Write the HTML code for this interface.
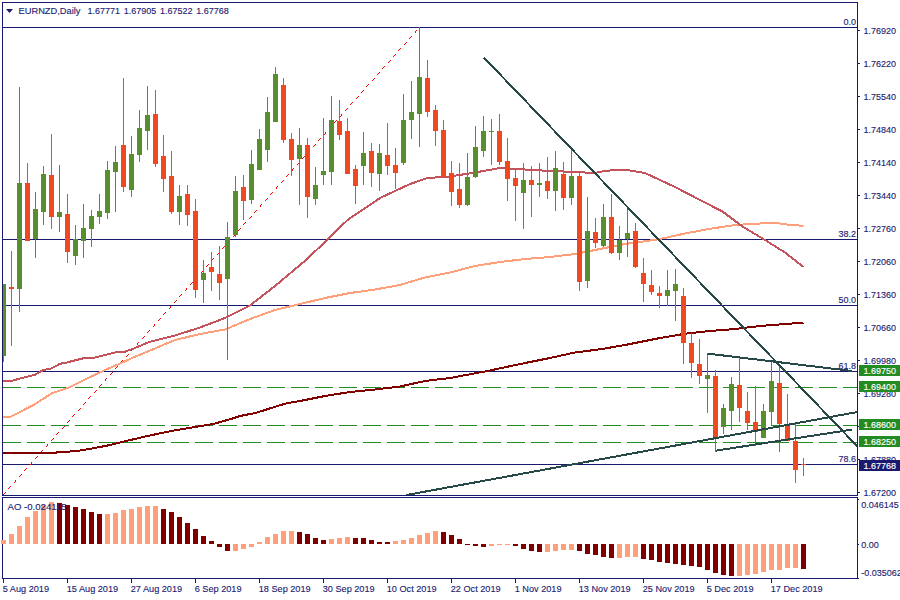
<!DOCTYPE html>
<html><head><meta charset="utf-8"><title>EURNZD Daily</title>
<style>html,body{margin:0;padding:0;background:#fff;width:900px;height:600px;overflow:hidden;font-family:"Liberation Sans",sans-serif}</style></head>
<body>
<svg width="900" height="600" viewBox="0 0 900 600" style="position:absolute;left:0;top:0">
<rect x="0" y="0" width="900" height="600" fill="#fff"/>
<defs><clipPath id="mc"><rect x="3" y="3" width="854" height="492"/></clipPath></defs>
<g shape-rendering="crispEdges" fill="#191970">
<rect x="2" y="2" width="856" height="1"/>
<rect x="2" y="2" width="1" height="494"/>
<rect x="2" y="497" width="1" height="82"/>
<rect x="857" y="2" width="1" height="494"/>
<rect x="857" y="497" width="1" height="82"/>
<rect x="2" y="495" width="856" height="1"/>
<rect x="2" y="497" width="856" height="1"/>
<rect x="2" y="578" width="856" height="1"/>
<rect x="2" y="27" width="856" height="1"/>
<rect x="2" y="239" width="856" height="1"/>
<rect x="2" y="305" width="856" height="1"/>
<rect x="2" y="371" width="856" height="1"/>
<rect x="2" y="464" width="856" height="1"/>
<rect x="858" y="30" width="2" height="1"/>
<rect x="858" y="63" width="2" height="1"/>
<rect x="858" y="96" width="2" height="1"/>
<rect x="858" y="129" width="2" height="1"/>
<rect x="858" y="162" width="2" height="1"/>
<rect x="858" y="195" width="2" height="1"/>
<rect x="858" y="228" width="2" height="1"/>
<rect x="858" y="261" width="2" height="1"/>
<rect x="858" y="294" width="2" height="1"/>
<rect x="858" y="327" width="2" height="1"/>
<rect x="858" y="360" width="2" height="1"/>
<rect x="858" y="393" width="2" height="1"/>
<rect x="858" y="426" width="2" height="1"/>
<rect x="858" y="459" width="2" height="1"/>
<rect x="858" y="492" width="2" height="1"/>
<rect x="858" y="499" width="1" height="1"/>
<rect x="858" y="544" width="1" height="1"/>
<rect x="858" y="578" width="1" height="1"/>
<rect x="3" y="579" width="1" height="4"/>
<rect x="67" y="579" width="1" height="4"/>
<rect x="131" y="579" width="1" height="4"/>
<rect x="195" y="579" width="1" height="4"/>
<rect x="259" y="579" width="1" height="4"/>
<rect x="323" y="579" width="1" height="4"/>
<rect x="387" y="579" width="1" height="4"/>
<rect x="451" y="579" width="1" height="4"/>
<rect x="515" y="579" width="1" height="4"/>
<rect x="579" y="579" width="1" height="4"/>
<rect x="643" y="579" width="1" height="4"/>
<rect x="707" y="579" width="1" height="4"/>
<rect x="771" y="579" width="1" height="4"/>
</g>
<g shape-rendering="crispEdges" stroke="#228b22" stroke-width="1" stroke-dasharray="18 6">
<line x1="3" y1="387.5" x2="857" y2="387.5"/>
<line x1="3" y1="425.5" x2="857" y2="425.5"/>
<line x1="3" y1="442.5" x2="857" y2="442.5"/>
</g>
<g clip-path="url(#mc)">
<path d="M416 30h1v1h-1zM415 31h1v1h-1zM415 32h1v1h-1zM411 36h1v1h-1zM410 37h1v1h-1zM409 38h1v1h-1zM406 42h1v1h-1zM405 43h1v1h-1zM404 44h1v1h-1zM400 48h1v1h-1zM399 49h1v1h-1zM398 50h1v1h-1zM395 54h1v1h-1zM394 55h1v1h-1zM393 56h1v1h-1zM390 60h1v1h-1zM389 61h1v1h-1zM388 62h1v1h-1zM384 66h1v1h-1zM383 67h1v1h-1zM382 68h1v1h-1zM379 72h1v1h-1zM378 73h1v1h-1zM377 74h1v1h-1zM374 78h1v1h-1zM373 79h1v1h-1zM372 80h1v1h-1zM368 84h1v1h-1zM367 85h1v1h-1zM366 86h1v1h-1zM363 90h1v1h-1zM362 91h1v1h-1zM361 92h1v1h-1zM358 96h1v1h-1zM357 97h1v1h-1zM356 98h1v1h-1zM352 102h1v1h-1zM351 103h1v1h-1zM350 104h1v1h-1zM347 108h1v1h-1zM346 109h1v1h-1zM345 110h1v1h-1zM341 114h1v1h-1zM341 115h1v1h-1zM340 116h1v1h-1zM336 120h1v1h-1zM335 121h1v1h-1zM334 122h1v1h-1zM331 126h1v1h-1zM330 127h1v1h-1zM329 128h1v1h-1zM325 132h1v1h-1zM325 133h1v1h-1zM324 134h1v1h-1zM320 138h1v1h-1zM319 139h1v1h-1zM318 140h1v1h-1zM315 144h1v1h-1zM314 145h1v1h-1zM313 146h1v1h-1zM309 150h1v1h-1zM309 151h1v1h-1zM308 152h1v1h-1zM304 156h1v1h-1zM303 157h1v1h-1zM302 158h1v1h-1zM299 162h1v1h-1zM298 163h1v1h-1zM297 164h1v1h-1zM293 168h1v1h-1zM292 169h1v1h-1zM292 170h1v1h-1zM288 174h1v1h-1zM287 175h1v1h-1zM286 176h1v1h-1zM283 180h1v1h-1zM282 181h1v1h-1zM281 182h1v1h-1zM277 186h1v1h-1zM276 187h1v1h-1zM276 188h1v1h-1zM272 192h1v1h-1zM271 193h1v1h-1zM270 194h1v1h-1zM267 198h1v1h-1zM266 199h1v1h-1zM265 200h1v1h-1zM261 204h1v1h-1zM260 205h1v1h-1zM260 206h1v1h-1zM256 210h1v1h-1zM255 211h1v1h-1zM254 212h1v1h-1zM251 216h1v1h-1zM250 217h1v1h-1zM249 218h1v1h-1zM245 222h1v1h-1zM244 223h1v1h-1zM243 224h1v1h-1zM240 228h1v1h-1zM239 229h1v1h-1zM238 230h1v1h-1zM235 234h1v1h-1zM234 235h1v1h-1zM233 236h1v1h-1zM229 240h1v1h-1zM228 241h1v1h-1zM227 242h1v1h-1zM224 246h1v1h-1zM223 247h1v1h-1zM222 248h1v1h-1zM219 252h1v1h-1zM218 253h1v1h-1zM217 254h1v1h-1zM213 258h1v1h-1zM212 259h1v1h-1zM211 260h1v1h-1zM208 264h1v1h-1zM207 265h1v1h-1zM206 266h1v1h-1zM203 270h1v1h-1zM202 271h1v1h-1zM201 272h1v1h-1zM197 276h1v1h-1zM196 277h1v1h-1zM195 278h1v1h-1zM192 282h1v1h-1zM191 283h1v1h-1zM190 284h1v1h-1zM186 288h1v1h-1zM186 289h1v1h-1zM185 290h1v1h-1zM181 294h1v1h-1zM180 295h1v1h-1zM179 296h1v1h-1zM176 300h1v1h-1zM175 301h1v1h-1zM174 302h1v1h-1zM170 306h1v1h-1zM170 307h1v1h-1zM169 308h1v1h-1zM165 312h1v1h-1zM164 313h1v1h-1zM163 314h1v1h-1zM160 318h1v1h-1zM159 319h1v1h-1zM158 320h1v1h-1zM154 324h1v1h-1zM154 325h1v1h-1zM153 326h1v1h-1zM149 330h1v1h-1zM148 331h1v1h-1zM147 332h1v1h-1zM144 336h1v1h-1zM143 337h1v1h-1zM142 338h1v1h-1zM138 342h1v1h-1zM137 343h1v1h-1zM137 344h1v1h-1zM133 348h1v1h-1zM132 349h1v1h-1zM131 350h1v1h-1zM128 354h1v1h-1zM127 355h1v1h-1zM126 356h1v1h-1zM122 360h1v1h-1zM121 361h1v1h-1zM121 362h1v1h-1zM117 366h1v1h-1zM116 367h1v1h-1zM115 368h1v1h-1zM112 372h1v1h-1zM111 373h1v1h-1zM110 374h1v1h-1zM106 378h1v1h-1zM105 379h1v1h-1zM105 380h1v1h-1zM101 384h1v1h-1zM100 385h1v1h-1zM99 386h1v1h-1zM96 390h1v1h-1zM95 391h1v1h-1zM94 392h1v1h-1zM90 396h1v1h-1zM89 397h1v1h-1zM88 398h1v1h-1zM85 402h1v1h-1zM84 403h1v1h-1zM83 404h1v1h-1zM80 408h1v1h-1zM79 409h1v1h-1zM78 410h1v1h-1zM74 414h1v1h-1zM73 415h1v1h-1zM72 416h1v1h-1zM69 420h1v1h-1zM68 421h1v1h-1zM67 422h1v1h-1zM64 426h1v1h-1zM63 427h1v1h-1zM62 428h1v1h-1zM58 432h1v1h-1zM57 433h1v1h-1zM56 434h1v1h-1zM53 438h1v1h-1zM52 439h1v1h-1zM51 440h1v1h-1zM47 444h1v1h-1zM47 445h1v1h-1zM46 446h1v1h-1zM42 450h1v1h-1zM41 451h1v1h-1zM40 452h1v1h-1zM37 456h1v1h-1zM36 457h1v1h-1zM35 458h1v1h-1zM31 462h1v1h-1zM31 463h1v1h-1zM30 464h1v1h-1zM26 468h1v1h-1zM25 469h1v1h-1zM24 470h1v1h-1zM21 474h1v1h-1zM20 475h1v1h-1zM19 476h1v1h-1zM15 480h1v1h-1zM15 481h1v1h-1zM14 482h1v1h-1zM10 486h1v1h-1zM9 487h1v1h-1zM8 488h1v1h-1zM5 492h1v1h-1zM4 493h1v1h-1zM3 494h1v1h-1z" fill="#ff0000" shape-rendering="crispEdges"/>
<polyline points="2,417.5 10.8,416.7 35,404.2 51.7,393.3 69.2,387.5 83.3,380.3 103.3,370.8 116.7,365 133.3,357.5 150,350.5 175,340 200,334 225,329.5 250,319 275,310 300,304 325,298 350,293 375,289.5 400,285 425,277.5 450,272.5 475,266 500,262 525,259 550,257 575,254 600,249 625,244 650,240.5 660,239 685,233.5 710,228.8 735,225 755,223.75 775,222.75 790,225 803.5,225.75" fill="none" stroke="#ffa07a" stroke-width="2" stroke-linejoin="round" shape-rendering="crispEdges"/>
<polyline points="2,381 10.8,381 35,374.7 43.3,370 51.7,368.3 60,363.8 66.7,362.5 83.3,358.3 95,357.5 116.7,352 125,351.7 133.3,348.7 150,341.7 175,335.5 200,327.5 225,318 250,305.5 275,286 306,260 327.5,239.5 347.5,220 380,198 410,184 427.5,178 450,176.5 475,172.5 500,168 525,169.5 550,171 575,172 595,173 605,170.75 625,169.75 645,173 675,187 700,200 722.5,211.5 742.5,226.5 765,240 785,252.5 803.5,267" fill="none" stroke="#c4545b" stroke-width="2" stroke-linejoin="round" shape-rendering="crispEdges"/>
<polyline points="2.5,452.8 20,453.3 43,453.3 60,452.3 76.7,451 93.3,448.3 106.7,445.7 123.3,441.7 140,437.7 156.7,434 173.3,430.7 193.3,427.3 213.3,424 233.3,418.3 240,416 256.7,412.7 273.3,407.3 286.7,403.3 300,401 325,396 350,392 375,389.5 400,386.5 425,381 450,378 487.5,371 525,363 550,358 575,352.5 600,349.3 625,345 650,340 660,338 685,333.75 710,331 735,329 760,326 785,324 803.5,322.75" fill="none" stroke="#800000" stroke-width="2" stroke-linejoin="round" shape-rendering="crispEdges"/>
<g shape-rendering="crispEdges">
<rect x="3" y="284.0" width="1" height="78.0" fill="#598e2e"/>
<rect x="1" y="284.0" width="5" height="72.0" fill="#598e2e"/>
<rect x="11" y="251.0" width="1" height="95.0" fill="#f04921"/>
<rect x="9" y="287.0" width="5" height="2.0" fill="#f04921"/>
<rect x="19" y="87.0" width="1" height="225.0" fill="#598e2e"/>
<rect x="17" y="183.0" width="5" height="106.0" fill="#598e2e"/>
<rect x="27" y="163.0" width="1" height="78.0" fill="#f04921"/>
<rect x="25" y="183.0" width="5" height="58.0" fill="#f04921"/>
<rect x="35" y="192.0" width="1" height="66.0" fill="#598e2e"/>
<rect x="33" y="209.0" width="5" height="30.0" fill="#598e2e"/>
<rect x="43" y="166.0" width="1" height="59.0" fill="#598e2e"/>
<rect x="41" y="174.0" width="5" height="38.0" fill="#598e2e"/>
<rect x="51" y="134.0" width="1" height="95.0" fill="#f04921"/>
<rect x="49" y="175.0" width="5" height="42.0" fill="#f04921"/>
<rect x="59" y="165.0" width="1" height="67.0" fill="#598e2e"/>
<rect x="57" y="212.0" width="5" height="5.0" fill="#598e2e"/>
<rect x="67" y="194.0" width="1" height="69.0" fill="#f04921"/>
<rect x="65" y="214.0" width="5" height="38.0" fill="#f04921"/>
<rect x="75" y="225.0" width="1" height="40.0" fill="#598e2e"/>
<rect x="73" y="239.0" width="5" height="17.0" fill="#598e2e"/>
<rect x="83" y="204.0" width="1" height="54.0" fill="#598e2e"/>
<rect x="81" y="228.0" width="5" height="13.0" fill="#598e2e"/>
<rect x="91" y="210.0" width="1" height="37.0" fill="#598e2e"/>
<rect x="89" y="216.0" width="5" height="13.0" fill="#598e2e"/>
<rect x="99" y="194.0" width="1" height="30.0" fill="#598e2e"/>
<rect x="97" y="211.0" width="5" height="6.0" fill="#598e2e"/>
<rect x="107" y="161.0" width="1" height="58.0" fill="#598e2e"/>
<rect x="105" y="170.0" width="5" height="43.0" fill="#598e2e"/>
<rect x="115" y="146.0" width="1" height="66.0" fill="#598e2e"/>
<rect x="113" y="162.0" width="5" height="10.0" fill="#598e2e"/>
<rect x="123" y="78.0" width="1" height="114.0" fill="#f04921"/>
<rect x="121" y="145.0" width="5" height="42.0" fill="#f04921"/>
<rect x="131" y="136.0" width="1" height="61.0" fill="#598e2e"/>
<rect x="129" y="154.0" width="5" height="36.0" fill="#598e2e"/>
<rect x="139" y="110.0" width="1" height="52.0" fill="#598e2e"/>
<rect x="137" y="128.0" width="5" height="27.0" fill="#598e2e"/>
<rect x="147" y="86.0" width="1" height="64.0" fill="#598e2e"/>
<rect x="145" y="115.0" width="5" height="16.0" fill="#598e2e"/>
<rect x="155" y="90.0" width="1" height="77.0" fill="#f04921"/>
<rect x="153" y="114.0" width="5" height="50.0" fill="#f04921"/>
<rect x="163" y="135.0" width="1" height="57.0" fill="#f04921"/>
<rect x="161" y="156.0" width="5" height="23.0" fill="#f04921"/>
<rect x="171" y="151.0" width="1" height="63.0" fill="#f04921"/>
<rect x="169" y="176.0" width="5" height="36.0" fill="#f04921"/>
<rect x="179" y="185.0" width="1" height="40.0" fill="#598e2e"/>
<rect x="177" y="196.0" width="5" height="16.0" fill="#598e2e"/>
<rect x="187" y="185.0" width="1" height="41.0" fill="#f04921"/>
<rect x="185" y="194.0" width="5" height="21.0" fill="#f04921"/>
<rect x="195" y="199.0" width="1" height="99.0" fill="#f04921"/>
<rect x="193" y="211.0" width="5" height="79.0" fill="#f04921"/>
<rect x="203" y="260.0" width="1" height="43.0" fill="#598e2e"/>
<rect x="201" y="273.0" width="5" height="7.0" fill="#598e2e"/>
<rect x="211" y="252.0" width="1" height="39.0" fill="#f04921"/>
<rect x="209" y="267.0" width="5" height="5.0" fill="#f04921"/>
<rect x="219" y="246.0" width="1" height="54.0" fill="#f04921"/>
<rect x="217" y="274.0" width="5" height="9.0" fill="#f04921"/>
<rect x="227" y="222.0" width="1" height="138.0" fill="#598e2e"/>
<rect x="225" y="237.0" width="5" height="42.0" fill="#598e2e"/>
<rect x="235" y="176.0" width="1" height="61.0" fill="#598e2e"/>
<rect x="233" y="191.0" width="5" height="44.0" fill="#598e2e"/>
<rect x="243" y="175.0" width="1" height="45.0" fill="#f04921"/>
<rect x="241" y="187.0" width="5" height="14.0" fill="#f04921"/>
<rect x="251" y="150.0" width="1" height="54.0" fill="#598e2e"/>
<rect x="249" y="164.0" width="5" height="36.0" fill="#598e2e"/>
<rect x="259" y="129.0" width="1" height="41.0" fill="#598e2e"/>
<rect x="257" y="139.0" width="5" height="31.0" fill="#598e2e"/>
<rect x="267" y="97.0" width="1" height="65.0" fill="#598e2e"/>
<rect x="265" y="112.0" width="5" height="38.0" fill="#598e2e"/>
<rect x="275" y="67.0" width="1" height="55.0" fill="#598e2e"/>
<rect x="273" y="74.0" width="5" height="48.0" fill="#598e2e"/>
<rect x="283" y="78.0" width="1" height="65.0" fill="#f04921"/>
<rect x="281" y="85.0" width="5" height="55.0" fill="#f04921"/>
<rect x="291" y="133.0" width="1" height="43.0" fill="#f04921"/>
<rect x="289" y="139.0" width="5" height="21.0" fill="#f04921"/>
<rect x="299" y="128.0" width="1" height="77.0" fill="#598e2e"/>
<rect x="297" y="145.0" width="5" height="14.0" fill="#598e2e"/>
<rect x="307" y="138.0" width="1" height="80.0" fill="#f04921"/>
<rect x="305" y="145.0" width="5" height="52.0" fill="#f04921"/>
<rect x="315" y="167.0" width="1" height="38.0" fill="#598e2e"/>
<rect x="313" y="185.0" width="5" height="14.0" fill="#598e2e"/>
<rect x="323" y="118.0" width="1" height="67.0" fill="#598e2e"/>
<rect x="321" y="171.0" width="5" height="4.0" fill="#598e2e"/>
<rect x="331" y="96.0" width="1" height="89.0" fill="#598e2e"/>
<rect x="329" y="120.0" width="5" height="52.0" fill="#598e2e"/>
<rect x="339" y="100.0" width="1" height="40.0" fill="#f04921"/>
<rect x="337" y="121.0" width="5" height="14.0" fill="#f04921"/>
<rect x="347" y="118.0" width="1" height="56.0" fill="#f04921"/>
<rect x="345" y="131.0" width="5" height="43.0" fill="#f04921"/>
<rect x="355" y="165.0" width="1" height="39.0" fill="#f04921"/>
<rect x="353" y="169.0" width="5" height="17.0" fill="#f04921"/>
<rect x="363" y="132.0" width="1" height="53.0" fill="#598e2e"/>
<rect x="361" y="153.0" width="5" height="13.0" fill="#598e2e"/>
<rect x="371" y="143.0" width="1" height="44.0" fill="#f04921"/>
<rect x="369" y="151.0" width="5" height="22.0" fill="#f04921"/>
<rect x="379" y="144.0" width="1" height="47.0" fill="#598e2e"/>
<rect x="377" y="153.0" width="5" height="21.0" fill="#598e2e"/>
<rect x="387" y="123.0" width="1" height="52.0" fill="#f04921"/>
<rect x="385" y="155.0" width="5" height="11.0" fill="#f04921"/>
<rect x="395" y="148.0" width="1" height="41.0" fill="#f04921"/>
<rect x="393" y="165.0" width="5" height="8.0" fill="#f04921"/>
<rect x="403" y="94.0" width="1" height="71.0" fill="#598e2e"/>
<rect x="401" y="120.0" width="5" height="43.0" fill="#598e2e"/>
<rect x="411" y="81.0" width="1" height="58.0" fill="#598e2e"/>
<rect x="409" y="112.0" width="5" height="8.0" fill="#598e2e"/>
<rect x="419" y="27.0" width="1" height="120.0" fill="#598e2e"/>
<rect x="417" y="77.0" width="5" height="37.0" fill="#598e2e"/>
<rect x="427" y="60.0" width="1" height="57.0" fill="#f04921"/>
<rect x="425" y="78.0" width="5" height="34.0" fill="#f04921"/>
<rect x="435" y="105.0" width="1" height="41.0" fill="#f04921"/>
<rect x="433" y="110.0" width="5" height="21.0" fill="#f04921"/>
<rect x="443" y="120.0" width="1" height="57.0" fill="#f04921"/>
<rect x="441" y="130.0" width="5" height="47.0" fill="#f04921"/>
<rect x="451" y="161.0" width="1" height="45.0" fill="#f04921"/>
<rect x="449" y="173.0" width="5" height="19.0" fill="#f04921"/>
<rect x="459" y="163.0" width="1" height="45.0" fill="#f04921"/>
<rect x="457" y="189.0" width="5" height="16.0" fill="#f04921"/>
<rect x="467" y="153.0" width="1" height="53.0" fill="#598e2e"/>
<rect x="465" y="177.0" width="5" height="28.0" fill="#598e2e"/>
<rect x="475" y="126.0" width="1" height="52.0" fill="#598e2e"/>
<rect x="473" y="147.0" width="5" height="30.0" fill="#598e2e"/>
<rect x="483" y="116.0" width="1" height="41.0" fill="#598e2e"/>
<rect x="481" y="131.0" width="5" height="20.0" fill="#598e2e"/>
<rect x="491" y="119.0" width="1" height="46.0" fill="#598e2e"/>
<rect x="489" y="131.0" width="5" height="1.0" fill="#598e2e"/>
<rect x="499" y="114.0" width="1" height="51.0" fill="#f04921"/>
<rect x="497" y="131.0" width="5" height="31.0" fill="#f04921"/>
<rect x="507" y="138.0" width="1" height="63.0" fill="#f04921"/>
<rect x="505" y="161.0" width="5" height="18.0" fill="#f04921"/>
<rect x="515" y="168.0" width="1" height="53.0" fill="#f04921"/>
<rect x="513" y="178.0" width="5" height="8.0" fill="#f04921"/>
<rect x="523" y="163.0" width="1" height="66.0" fill="#598e2e"/>
<rect x="521" y="180.0" width="5" height="13.0" fill="#598e2e"/>
<rect x="531" y="166.0" width="1" height="51.0" fill="#f04921"/>
<rect x="529" y="180.0" width="5" height="5.0" fill="#f04921"/>
<rect x="539" y="163.0" width="1" height="34.0" fill="#598e2e"/>
<rect x="537" y="183.0" width="5" height="2.0" fill="#598e2e"/>
<rect x="547" y="157.0" width="1" height="42.0" fill="#f04921"/>
<rect x="545" y="181.0" width="5" height="10.0" fill="#f04921"/>
<rect x="555" y="151.0" width="1" height="60.0" fill="#598e2e"/>
<rect x="553" y="168.0" width="5" height="23.0" fill="#598e2e"/>
<rect x="563" y="162.0" width="1" height="48.0" fill="#f04921"/>
<rect x="561" y="174.0" width="5" height="24.0" fill="#f04921"/>
<rect x="571" y="148.0" width="1" height="57.0" fill="#598e2e"/>
<rect x="569" y="176.0" width="5" height="22.0" fill="#598e2e"/>
<rect x="579" y="173.0" width="1" height="118.0" fill="#f04921"/>
<rect x="577" y="176.0" width="5" height="106.0" fill="#f04921"/>
<rect x="587" y="197.0" width="1" height="91.0" fill="#598e2e"/>
<rect x="585" y="231.0" width="5" height="50.0" fill="#598e2e"/>
<rect x="595" y="218.0" width="1" height="30.0" fill="#f04921"/>
<rect x="593" y="232.0" width="5" height="11.0" fill="#f04921"/>
<rect x="603" y="204.0" width="1" height="43.0" fill="#598e2e"/>
<rect x="601" y="217.0" width="5" height="29.0" fill="#598e2e"/>
<rect x="611" y="194.0" width="1" height="60.0" fill="#f04921"/>
<rect x="609" y="217.0" width="5" height="36.0" fill="#f04921"/>
<rect x="619" y="226.0" width="1" height="34.0" fill="#598e2e"/>
<rect x="617" y="240.0" width="5" height="13.0" fill="#598e2e"/>
<rect x="627" y="208.0" width="1" height="49.0" fill="#598e2e"/>
<rect x="625" y="233.0" width="5" height="6.0" fill="#598e2e"/>
<rect x="635" y="223.0" width="1" height="45.0" fill="#f04921"/>
<rect x="633" y="231.0" width="5" height="36.0" fill="#f04921"/>
<rect x="643" y="258.0" width="1" height="44.0" fill="#f04921"/>
<rect x="641" y="273.0" width="5" height="11.0" fill="#f04921"/>
<rect x="651" y="270.0" width="1" height="25.0" fill="#f04921"/>
<rect x="649" y="285.0" width="5" height="7.0" fill="#f04921"/>
<rect x="659" y="286.0" width="1" height="22.0" fill="#f04921"/>
<rect x="657" y="293.0" width="5" height="3.0" fill="#f04921"/>
<rect x="667" y="270.0" width="1" height="36.0" fill="#598e2e"/>
<rect x="665" y="290.0" width="5" height="6.0" fill="#598e2e"/>
<rect x="675" y="269.0" width="1" height="52.0" fill="#598e2e"/>
<rect x="673" y="284.0" width="5" height="7.0" fill="#598e2e"/>
<rect x="683" y="288.0" width="1" height="76.0" fill="#f04921"/>
<rect x="681" y="296.0" width="5" height="47.0" fill="#f04921"/>
<rect x="691" y="333.0" width="1" height="45.0" fill="#f04921"/>
<rect x="689" y="343.0" width="5" height="20.0" fill="#f04921"/>
<rect x="699" y="339.0" width="1" height="45.0" fill="#f04921"/>
<rect x="697" y="364.0" width="5" height="12.0" fill="#f04921"/>
<rect x="707" y="353.0" width="1" height="60.0" fill="#598e2e"/>
<rect x="705" y="375.0" width="5" height="4.0" fill="#598e2e"/>
<rect x="715" y="370.0" width="1" height="82.0" fill="#f04921"/>
<rect x="713" y="376.0" width="5" height="62.0" fill="#f04921"/>
<rect x="723" y="404.0" width="1" height="30.0" fill="#598e2e"/>
<rect x="721" y="408.0" width="5" height="19.0" fill="#598e2e"/>
<rect x="731" y="377.0" width="1" height="53.0" fill="#598e2e"/>
<rect x="729" y="384.0" width="5" height="27.0" fill="#598e2e"/>
<rect x="739" y="357.0" width="1" height="65.0" fill="#f04921"/>
<rect x="737" y="385.0" width="5" height="23.0" fill="#f04921"/>
<rect x="747" y="392.0" width="1" height="38.0" fill="#f04921"/>
<rect x="745" y="411.0" width="5" height="12.0" fill="#f04921"/>
<rect x="755" y="386.0" width="1" height="60.0" fill="#f04921"/>
<rect x="753" y="422.0" width="5" height="10.0" fill="#f04921"/>
<rect x="763" y="404.0" width="1" height="34.0" fill="#598e2e"/>
<rect x="761" y="411.0" width="5" height="27.0" fill="#598e2e"/>
<rect x="771" y="362.0" width="1" height="63.0" fill="#598e2e"/>
<rect x="769" y="381.0" width="5" height="31.0" fill="#598e2e"/>
<rect x="779" y="365.0" width="1" height="87.0" fill="#f04921"/>
<rect x="777" y="383.0" width="5" height="41.0" fill="#f04921"/>
<rect x="787" y="394.0" width="1" height="47.0" fill="#f04921"/>
<rect x="785" y="424.0" width="5" height="17.0" fill="#f04921"/>
<rect x="795" y="424.0" width="1" height="59.0" fill="#f04921"/>
<rect x="793" y="441.0" width="5" height="29.0" fill="#f04921"/>
<rect x="803" y="458.0" width="1" height="18.0" fill="#f04921"/>
<rect x="801" y="464.0" width="5" height="1.0" fill="#f04921"/>
</g>
<g stroke="#264846" stroke-width="2" shape-rendering="crispEdges">
<line x1="484" y1="57.7" x2="857.5" y2="446.5"/>
<line x1="406.6" y1="495" x2="857.5" y2="412"/>
<line x1="707.6" y1="353.6" x2="852" y2="371"/>
<line x1="716" y1="450.6" x2="852" y2="429.6"/>
</g>
</g>
<g shape-rendering="crispEdges">
<rect x="1" y="540.0" width="5" height="4.0" fill="#ffa07a"/>
<rect x="9" y="534.0" width="5" height="10.0" fill="#ffa07a"/>
<rect x="17" y="526.0" width="5" height="18.0" fill="#ffa07a"/>
<rect x="25" y="517.0" width="5" height="27.0" fill="#ffa07a"/>
<rect x="33" y="511.0" width="5" height="33.0" fill="#ffa07a"/>
<rect x="41" y="505.0" width="5" height="39.0" fill="#ffa07a"/>
<rect x="49" y="502.0" width="5" height="42.0" fill="#ffa07a"/>
<rect x="57" y="503.0" width="5" height="41.0" fill="#800000"/>
<rect x="65" y="505.0" width="5" height="39.0" fill="#800000"/>
<rect x="73" y="507.0" width="5" height="37.0" fill="#800000"/>
<rect x="81" y="509.0" width="5" height="35.0" fill="#800000"/>
<rect x="89" y="512.0" width="5" height="32.0" fill="#800000"/>
<rect x="97" y="514.0" width="5" height="30.0" fill="#800000"/>
<rect x="105" y="514.0" width="5" height="30.0" fill="#ffa07a"/>
<rect x="113" y="513.0" width="5" height="31.0" fill="#ffa07a"/>
<rect x="121" y="510.0" width="5" height="34.0" fill="#ffa07a"/>
<rect x="129" y="509.0" width="5" height="35.0" fill="#ffa07a"/>
<rect x="137" y="507.0" width="5" height="37.0" fill="#ffa07a"/>
<rect x="145" y="506.0" width="5" height="38.0" fill="#ffa07a"/>
<rect x="153" y="506.0" width="5" height="38.0" fill="#ffa07a"/>
<rect x="161" y="509.0" width="5" height="35.0" fill="#800000"/>
<rect x="169" y="512.0" width="5" height="32.0" fill="#800000"/>
<rect x="177" y="517.0" width="5" height="27.0" fill="#800000"/>
<rect x="185" y="523.0" width="5" height="21.0" fill="#800000"/>
<rect x="193" y="529.0" width="5" height="15.0" fill="#800000"/>
<rect x="201" y="536.0" width="5" height="8.0" fill="#800000"/>
<rect x="209" y="541.0" width="5" height="3.0" fill="#800000"/>
<rect x="217" y="544" width="5" height="3.0" fill="#800000"/>
<rect x="225" y="544" width="5" height="6.5" fill="#800000"/>
<rect x="233" y="544" width="5" height="7.0" fill="#ffa07a"/>
<rect x="241" y="544" width="5" height="5.0" fill="#ffa07a"/>
<rect x="249" y="544" width="5" height="3.0" fill="#ffa07a"/>
<rect x="257" y="542.0" width="5" height="2.0" fill="#ffa07a"/>
<rect x="265" y="537.0" width="5" height="7.0" fill="#ffa07a"/>
<rect x="273" y="534.0" width="5" height="10.0" fill="#ffa07a"/>
<rect x="281" y="531.0" width="5" height="13.0" fill="#ffa07a"/>
<rect x="289" y="531.0" width="5" height="13.0" fill="#ffa07a"/>
<rect x="297" y="532.0" width="5" height="12.0" fill="#800000"/>
<rect x="305" y="534.0" width="5" height="10.0" fill="#800000"/>
<rect x="313" y="538.0" width="5" height="6.0" fill="#800000"/>
<rect x="321" y="540.0" width="5" height="4.0" fill="#800000"/>
<rect x="329" y="539.0" width="5" height="5.0" fill="#ffa07a"/>
<rect x="337" y="538.0" width="5" height="6.0" fill="#ffa07a"/>
<rect x="345" y="537.0" width="5" height="7.0" fill="#ffa07a"/>
<rect x="353" y="538.0" width="5" height="6.0" fill="#800000"/>
<rect x="361" y="538.0" width="5" height="6.0" fill="#800000"/>
<rect x="369" y="540.0" width="5" height="4.0" fill="#800000"/>
<rect x="377" y="542.0" width="5" height="2.0" fill="#800000"/>
<rect x="385" y="542.0" width="5" height="2.0" fill="#800000"/>
<rect x="393" y="541.0" width="5" height="3.0" fill="#ffa07a"/>
<rect x="401" y="540.0" width="5" height="4.0" fill="#ffa07a"/>
<rect x="409" y="538.0" width="5" height="6.0" fill="#ffa07a"/>
<rect x="417" y="535.0" width="5" height="9.0" fill="#ffa07a"/>
<rect x="425" y="533.0" width="5" height="11.0" fill="#ffa07a"/>
<rect x="433" y="531.0" width="5" height="13.0" fill="#ffa07a"/>
<rect x="441" y="532.0" width="5" height="12.0" fill="#800000"/>
<rect x="449" y="535.0" width="5" height="9.0" fill="#800000"/>
<rect x="457" y="539.0" width="5" height="5.0" fill="#800000"/>
<rect x="465" y="544" width="5" height="1.0" fill="#800000"/>
<rect x="473" y="544" width="5" height="2.0" fill="#800000"/>
<rect x="481" y="544" width="5" height="3.0" fill="#800000"/>
<rect x="489" y="544" width="5" height="1.5" fill="#ffa07a"/>
<rect x="497" y="544" width="5" height="1.0" fill="#ffa07a"/>
<rect x="505" y="544" width="5" height="1.0" fill="#ffa07a"/>
<rect x="513" y="544" width="5" height="2.0" fill="#800000"/>
<rect x="521" y="544" width="5" height="5.0" fill="#800000"/>
<rect x="529" y="544" width="5" height="7.0" fill="#800000"/>
<rect x="537" y="544" width="5" height="8.0" fill="#800000"/>
<rect x="545" y="544" width="5" height="8.0" fill="#ffa07a"/>
<rect x="553" y="544" width="5" height="7.0" fill="#ffa07a"/>
<rect x="561" y="544" width="5" height="6.0" fill="#ffa07a"/>
<rect x="569" y="544" width="5" height="6.0" fill="#ffa07a"/>
<rect x="577" y="544" width="5" height="7.0" fill="#800000"/>
<rect x="585" y="544" width="5" height="10.0" fill="#800000"/>
<rect x="593" y="544" width="5" height="11.0" fill="#800000"/>
<rect x="601" y="544" width="5" height="13.0" fill="#800000"/>
<rect x="609" y="544" width="5" height="14.0" fill="#800000"/>
<rect x="617" y="544" width="5" height="14.0" fill="#ffa07a"/>
<rect x="625" y="544" width="5" height="13.0" fill="#ffa07a"/>
<rect x="633" y="544" width="5" height="13.0" fill="#ffa07a"/>
<rect x="641" y="544" width="5" height="15.0" fill="#800000"/>
<rect x="649" y="544" width="5" height="16.0" fill="#800000"/>
<rect x="657" y="544" width="5" height="18.0" fill="#800000"/>
<rect x="665" y="544" width="5" height="19.0" fill="#800000"/>
<rect x="673" y="544" width="5" height="20.0" fill="#800000"/>
<rect x="681" y="544" width="5" height="21.0" fill="#800000"/>
<rect x="689" y="544" width="5" height="22.0" fill="#800000"/>
<rect x="697" y="544" width="5" height="23.0" fill="#800000"/>
<rect x="705" y="544" width="5" height="26.0" fill="#800000"/>
<rect x="713" y="544" width="5" height="29.0" fill="#800000"/>
<rect x="721" y="544" width="5" height="31.0" fill="#800000"/>
<rect x="729" y="544" width="5" height="32.0" fill="#800000"/>
<rect x="737" y="544" width="5" height="32.0" fill="#ffa07a"/>
<rect x="745" y="544" width="5" height="31.0" fill="#ffa07a"/>
<rect x="753" y="544" width="5" height="30.0" fill="#ffa07a"/>
<rect x="761" y="544" width="5" height="28.0" fill="#ffa07a"/>
<rect x="769" y="544" width="5" height="26.0" fill="#ffa07a"/>
<rect x="777" y="544" width="5" height="26.0" fill="#ffa07a"/>
<rect x="785" y="544" width="5" height="24.0" fill="#ffa07a"/>
<rect x="793" y="544" width="5" height="24.0" fill="#ffa07a"/>
<rect x="801" y="544" width="5" height="25.0" fill="#800000"/>
</g>
<path d="M6 9 L13 9 L9.5 13 Z" fill="#191970"/>
<g font-family="Liberation Sans, sans-serif" font-size="9.5px" fill="#191970" stroke="#191970" stroke-width="0.12">
<text transform="translate(18.5 14) scale(0.98 1)" text-anchor="start">EURNZD,Daily</text>
<text transform="translate(87.5 14) scale(0.95 1)" text-anchor="start" word-spacing="1.2">1.67771 1.67905 1.67522 1.67768</text>
<text transform="translate(7.6 509.7) scale(1.01 1)" text-anchor="start">AO -0.024115</text>
<text transform="translate(863.5 33.9) scale(0.95 1)" text-anchor="start">1.76920</text>
<text transform="translate(863.5 66.9) scale(0.95 1)" text-anchor="start">1.76220</text>
<text transform="translate(863.5 99.9) scale(0.95 1)" text-anchor="start">1.75540</text>
<text transform="translate(863.5 132.9) scale(0.95 1)" text-anchor="start">1.74840</text>
<text transform="translate(863.5 165.9) scale(0.95 1)" text-anchor="start">1.74140</text>
<text transform="translate(863.5 198.9) scale(0.95 1)" text-anchor="start">1.73440</text>
<text transform="translate(863.5 231.9) scale(0.95 1)" text-anchor="start">1.72760</text>
<text transform="translate(863.5 264.9) scale(0.95 1)" text-anchor="start">1.72060</text>
<text transform="translate(863.5 297.9) scale(0.95 1)" text-anchor="start">1.71360</text>
<text transform="translate(863.5 330.9) scale(0.95 1)" text-anchor="start">1.70660</text>
<text transform="translate(863.5 363.9) scale(0.95 1)" text-anchor="start">1.69980</text>
<text transform="translate(863.5 396.9) scale(0.95 1)" text-anchor="start">1.69280</text>
<text transform="translate(863.5 429.9) scale(0.95 1)" text-anchor="start">1.68580</text>
<text transform="translate(863.5 462.9) scale(0.95 1)" text-anchor="start">1.67880</text>
<text transform="translate(863.5 495.9) scale(0.95 1)" text-anchor="start">1.67200</text>
<text transform="translate(861.3 508) scale(0.95 1)" text-anchor="start">0.046145</text>
<text transform="translate(861.3 548) scale(0.95 1)" text-anchor="start">0.00</text>
<text transform="translate(861.3 576) scale(0.95 1)" text-anchor="start">-0.035062</text>
<text transform="translate(856 25) scale(0.95 1)" text-anchor="end">0.0</text>
<text transform="translate(856 237) scale(0.95 1)" text-anchor="end">38.2</text>
<text transform="translate(856 303) scale(0.95 1)" text-anchor="end">50.0</text>
<text transform="translate(856 369) scale(0.95 1)" text-anchor="end">61.8</text>
<text transform="translate(856 462) scale(0.95 1)" text-anchor="end">78.6</text>
<text transform="translate(2.7 592) scale(0.965 1)" text-anchor="start">5 Aug 2019</text>
<text transform="translate(66.7 592) scale(0.965 1)" text-anchor="start">15 Aug 2019</text>
<text transform="translate(130.7 592) scale(0.965 1)" text-anchor="start">27 Aug 2019</text>
<text transform="translate(194.7 592) scale(0.965 1)" text-anchor="start">6 Sep 2019</text>
<text transform="translate(258.7 592) scale(0.965 1)" text-anchor="start">18 Sep 2019</text>
<text transform="translate(322.7 592) scale(0.965 1)" text-anchor="start">30 Sep 2019</text>
<text transform="translate(386.7 592) scale(0.965 1)" text-anchor="start">10 Oct 2019</text>
<text transform="translate(450.7 592) scale(0.965 1)" text-anchor="start">22 Oct 2019</text>
<text transform="translate(514.7 592) scale(0.965 1)" text-anchor="start">1 Nov 2019</text>
<text transform="translate(578.7 592) scale(0.965 1)" text-anchor="start">13 Nov 2019</text>
<text transform="translate(642.7 592) scale(0.965 1)" text-anchor="start">25 Nov 2019</text>
<text transform="translate(706.7 592) scale(0.965 1)" text-anchor="start">5 Dec 2019</text>
<text transform="translate(770.7 592) scale(0.965 1)" text-anchor="start">17 Dec 2019</text>
</g>
<g shape-rendering="crispEdges">
<rect x="859" y="365" width="41" height="11" fill="#228b22"/>
<rect x="859" y="381" width="41" height="11" fill="#228b22"/>
<rect x="859" y="419" width="41" height="11" fill="#228b22"/>
<rect x="859" y="436" width="41" height="11" fill="#228b22"/>
<rect x="859" y="460" width="41" height="11" fill="#191970"/>
</g>
<g font-family="Liberation Sans, sans-serif" font-size="9.5px" fill="#fff" stroke="#fff" stroke-width="0.15">
<text transform="translate(863.5 373.6) scale(0.95 1)" text-anchor="start">1.69750</text>
<text transform="translate(863.5 389.6) scale(0.95 1)" text-anchor="start">1.69400</text>
<text transform="translate(863.5 427.6) scale(0.95 1)" text-anchor="start">1.68600</text>
<text transform="translate(863.5 444.6) scale(0.95 1)" text-anchor="start">1.68250</text>
<text transform="translate(863.5 468.6) scale(0.95 1)" text-anchor="start">1.67768</text>
</g>
</svg>
</body></html>
